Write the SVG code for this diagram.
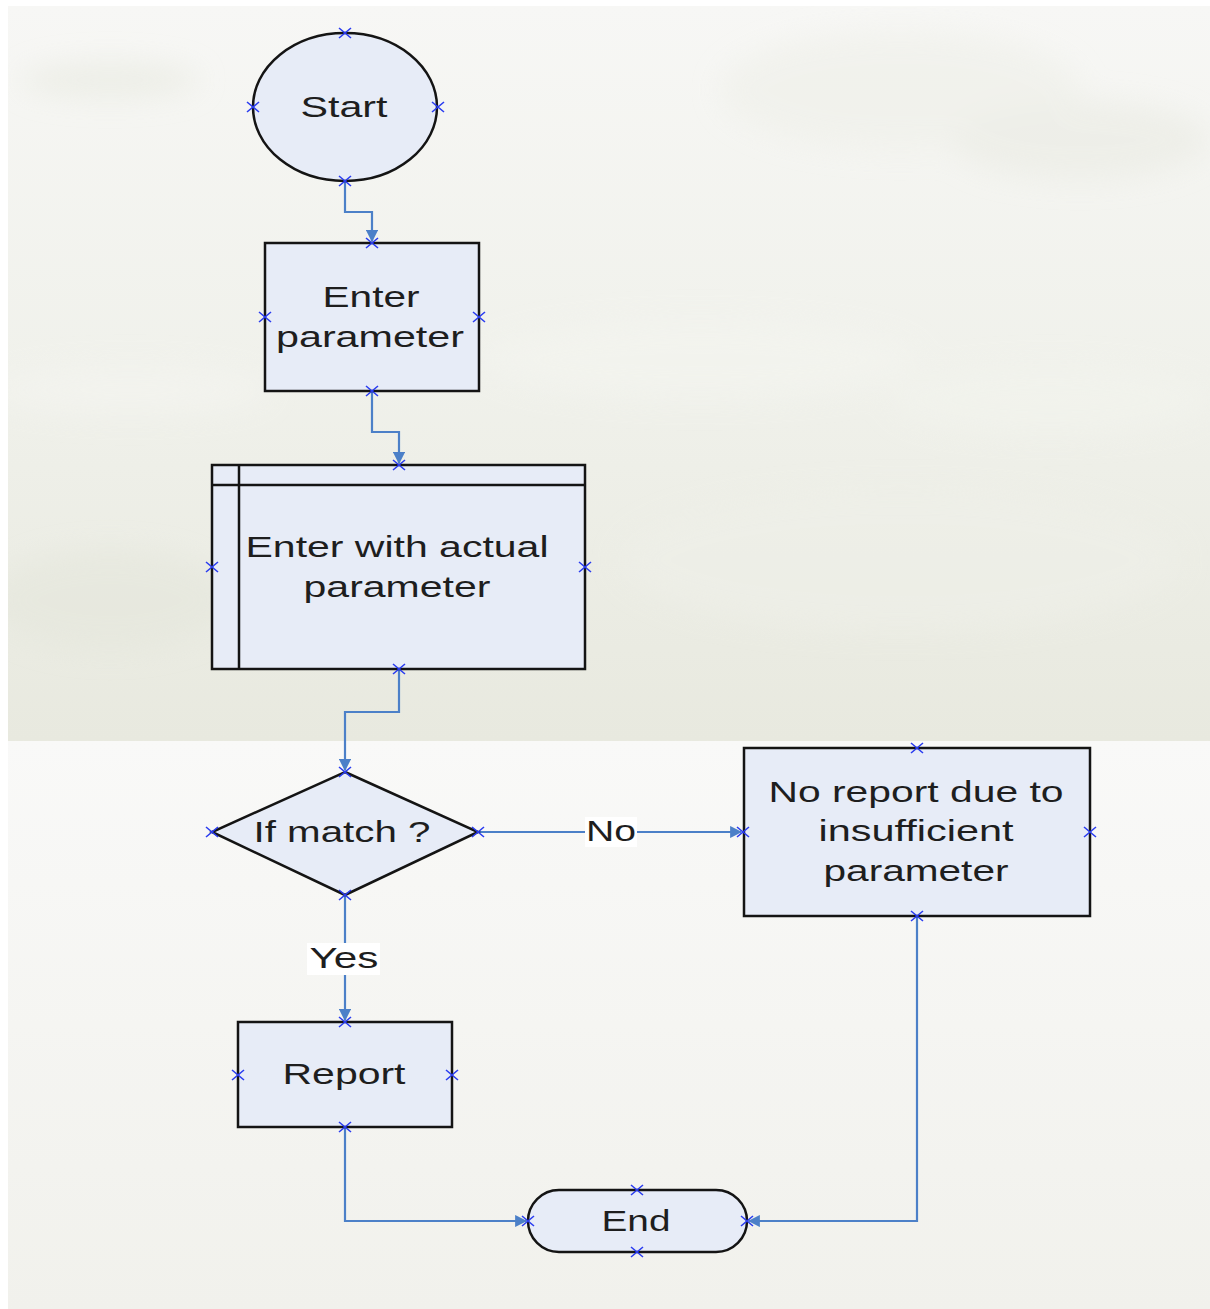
<svg xmlns="http://www.w3.org/2000/svg" width="1210" height="1309" viewBox="0 0 1210 1309">
  <style>
    .shape { fill: #e7ecf7; stroke: #141414; stroke-width: 2.5; }
    .label { font-family: "Liberation Sans", Arial, sans-serif; font-size: 30px; fill: #1e1e1e; text-anchor: middle; }
    .wire { fill: none; stroke: #4c80c8; stroke-width: 2.2; }
    .pin { fill: none; stroke: #2a3cf0; stroke-width: 1.6; }
  </style>
  <defs>
    <linearGradient id="skyTop" x1="0" y1="0" x2="0" y2="1">
      <stop offset="0" stop-color="#f7f7f5"/>
      <stop offset="0.5" stop-color="#f0f1eb"/>
      <stop offset="1" stop-color="#e8e9df"/>
    </linearGradient>
    <linearGradient id="groundBottom" x1="0" y1="0" x2="0" y2="1">
      <stop offset="0" stop-color="#f9f9f8"/>
      <stop offset="1" stop-color="#f1f1ec"/>
    </linearGradient>
    <clipPath id="skyClip">
      <rect x="8" y="6" width="1202" height="735"/>
    </clipPath>
    <filter id="soft" x="-20%" y="-50%" width="140%" height="200%">
      <feGaussianBlur stdDeviation="14"/>
    </filter>
    <marker id="arrow" viewBox="0 0 10 10" refX="9" refY="5" markerWidth="5.5" markerHeight="5.5" orient="auto" markerUnits="strokeWidth">
      <path d="M0,0 L10,5 L0,10 z" fill="#4c80c8"/>
    </marker>
    <path id="x" d="M-6,-5 L6,5 M-6,5 L6,-5"/>
  </defs>

  <!-- page background -->
  <rect x="0" y="0" width="1210" height="1309" fill="#ffffff"/>
  <rect x="8" y="6" width="1202" height="735" fill="url(#skyTop)"/>
  <rect x="8" y="741" width="1202" height="568" fill="url(#groundBottom)"/>

  <!-- faint clouds -->
  <g clip-path="url(#skyClip)">
    <g filter="url(#soft)" opacity="0.55">
      <ellipse cx="110" cy="80" rx="90" ry="18" fill="#e6e8de"/>
      <ellipse cx="900" cy="90" rx="180" ry="60" fill="#eeefe8"/>
      <ellipse cx="1080" cy="140" rx="130" ry="40" fill="#e9eae2"/>
      <ellipse cx="130" cy="390" rx="140" ry="25" fill="#f5f5f1"/>
      <ellipse cx="700" cy="360" rx="220" ry="40" fill="#f4f5f0"/>
      <ellipse cx="1050" cy="400" rx="160" ry="35" fill="#f3f4ee"/>
      <ellipse cx="900" cy="560" rx="280" ry="70" fill="#eff0e9"/>
      <ellipse cx="110" cy="600" rx="120" ry="50" fill="#e4e6db"/>
    </g>
  </g>

  <!-- connectors -->
  <g id="connectors">
    <path class="wire" d="M345,181 V212 H372 V241" marker-end="url(#arrow)"/>
    <path class="wire" d="M372,391 V432 H399 V463" marker-end="url(#arrow)"/>
    <path class="wire" d="M399,669 V712 H345 V770" marker-end="url(#arrow)"/>
    <path class="wire" d="M478,832 H741" marker-end="url(#arrow)"/>
    <path class="wire" d="M345,895 V1020" marker-end="url(#arrow)"/>
    <path class="wire" d="M345,1127 V1221 H526" marker-end="url(#arrow)"/>
    <path class="wire" d="M917,916 V1221 H749" marker-end="url(#arrow)"/>
    <rect x="585" y="817" width="52" height="30" fill="#ffffff"/>
    <text class="label" x="611" y="841" textLength="50" lengthAdjust="spacingAndGlyphs">No</text>
    <rect x="307" y="943" width="73" height="32" fill="#ffffff"/>
    <text class="label" x="344" y="968" textLength="69" lengthAdjust="spacingAndGlyphs">Yes</text>
  </g>

  <!-- Start -->
  <g id="start">
    <ellipse class="shape" cx="345" cy="107" rx="92" ry="74"/>
    <text class="label" x="344" y="117" font-size="32" textLength="87" lengthAdjust="spacingAndGlyphs">Start</text>
    <g class="pin">
      <use href="#x" x="345" y="33"/><use href="#x" x="253" y="107"/>
      <use href="#x" x="438" y="107"/><use href="#x" x="345" y="181"/>
    </g>
  </g>

  <!-- Enter parameter -->
  <g id="enter-parameter">
    <rect class="shape" x="265" y="243" width="214" height="148"/>
    <text class="label" x="371" y="307" textLength="97" lengthAdjust="spacingAndGlyphs">Enter</text>
    <text class="label" x="370" y="347" textLength="188" lengthAdjust="spacingAndGlyphs">parameter</text>
    <g class="pin">
      <use href="#x" x="372" y="243"/><use href="#x" x="265" y="317"/>
      <use href="#x" x="479" y="317"/><use href="#x" x="372" y="391"/>
    </g>
  </g>

  <!-- Enter with actual parameter (subprocess) -->
  <g id="enter-actual">
    <rect class="shape" x="212" y="465" width="373" height="204"/>
    <path d="M239,465 V669 M212,485 H585" fill="none" stroke="#141414" stroke-width="2.5"/>
    <text class="label" x="397" y="557" textLength="303" lengthAdjust="spacingAndGlyphs">Enter with actual</text>
    <text class="label" x="397" y="597" textLength="187" lengthAdjust="spacingAndGlyphs">parameter</text>
    <g class="pin">
      <use href="#x" x="399" y="465"/><use href="#x" x="212" y="567"/>
      <use href="#x" x="585" y="567"/><use href="#x" x="399" y="669"/>
    </g>
  </g>

  <!-- If match ? -->
  <g id="if-match">
    <polygon class="shape" points="345,772 478,832 345,895 212,832"/>
    <text class="label" x="342" y="842" textLength="177" lengthAdjust="spacingAndGlyphs">If match ?</text>
    <g class="pin">
      <use href="#x" x="345" y="772"/><use href="#x" x="212" y="832"/>
      <use href="#x" x="478" y="832"/><use href="#x" x="345" y="895"/>
    </g>
  </g>

  <!-- No report due to insufficient parameter -->
  <g id="no-report">
    <rect class="shape" x="744" y="748" width="346" height="168"/>
    <text class="label" x="916" y="802" textLength="295" lengthAdjust="spacingAndGlyphs">No report due to</text>
    <text class="label" x="916" y="841" textLength="195" lengthAdjust="spacingAndGlyphs">insufficient</text>
    <text class="label" x="916" y="881" textLength="185" lengthAdjust="spacingAndGlyphs">parameter</text>
    <g class="pin">
      <use href="#x" x="917" y="748"/><use href="#x" x="743" y="832"/>
      <use href="#x" x="1090" y="832"/><use href="#x" x="917" y="916"/>
    </g>
  </g>

  <!-- Report -->
  <g id="report">
    <rect class="shape" x="238" y="1022" width="214" height="105"/>
    <text class="label" x="344" y="1084" textLength="123" lengthAdjust="spacingAndGlyphs">Report</text>
    <g class="pin">
      <use href="#x" x="345" y="1022"/><use href="#x" x="238" y="1075"/>
      <use href="#x" x="452" y="1075"/><use href="#x" x="345" y="1127"/>
    </g>
  </g>

  <!-- End -->
  <g id="end">
    <rect class="shape" x="528" y="1190" width="219" height="62" rx="31" ry="31"/>
    <text class="label" x="636" y="1231" textLength="69" lengthAdjust="spacingAndGlyphs">End</text>
    <g class="pin">
      <use href="#x" x="637" y="1190"/><use href="#x" x="637" y="1252"/>
      <use href="#x" x="528" y="1221"/><use href="#x" x="747" y="1221"/>
    </g>
  </g>
</svg>
